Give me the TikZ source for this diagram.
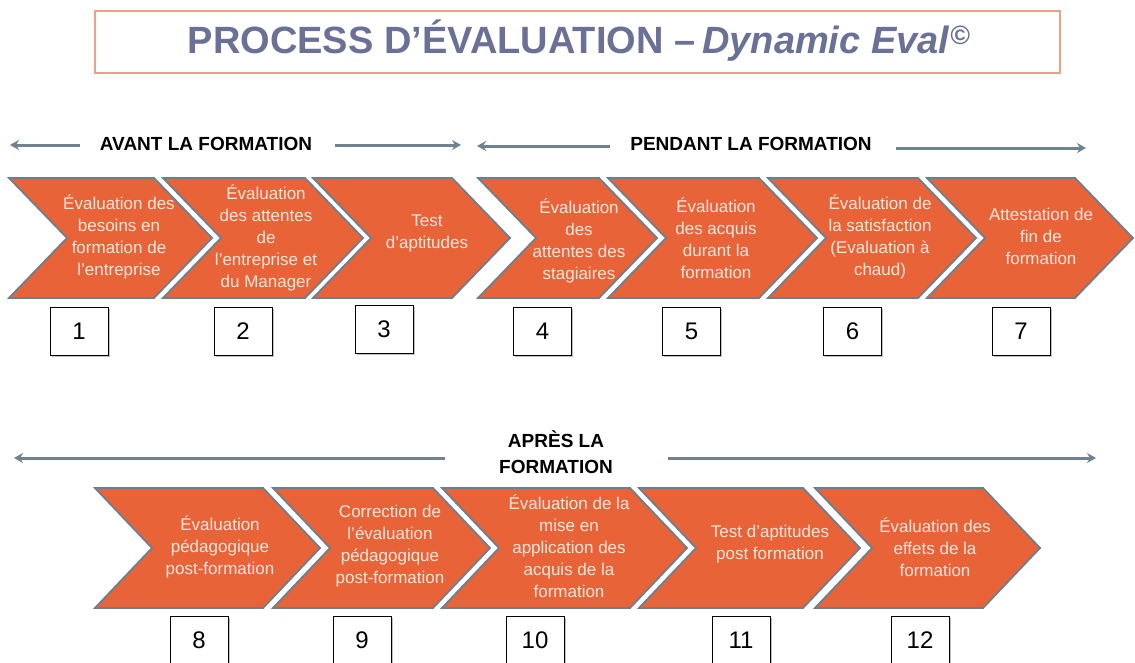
\documentclass[tikz,border=0pt]{standalone}
\usepackage{fontspec}
\setmainfont{Liberation Sans}
\usetikzlibrary{arrows.meta,shadows}
\definecolor{chevor}{HTML}{E96338}
\definecolor{chevline}{HTML}{6C7F8E}
\definecolor{arrowgrey}{HTML}{6F8290}
\definecolor{titlecol}{HTML}{6B7196}
\definecolor{framecol}{HTML}{E6A386}
\definecolor{chevtext}{HTML}{FCE7DE}
\tikzset{
  chev/.style={fill=chevor, draw=chevline, line width=1.8pt, line join=miter},
  chevlabel/.style={align=center, text=chevtext, font=\fontsize{17}{22}\selectfont, inner sep=0pt},
  numbox/.style={draw=black, line width=0.8pt, fill=white, minimum width=58pt, minimum height=48pt,
    font=\fontsize{24}{24}\selectfont, inner sep=0pt,
    drop shadow={shadow xshift=1.5pt, shadow yshift=-1.5pt, fill=black, opacity=0.25}},
  phase/.style={font=\bfseries\fontsize{19}{26}\selectfont, align=center, inner sep=0pt},
  sarrow/.style={draw=arrowgrey, line width=3pt, -{Stealth[length=9pt,width=10pt]}}
}
\newcommand\chevshape[4]{% x_topleft, x_topright, y_top, depth
  \path[chev] (#1,#3) -- (#2,#3) -- ++(#4,60) -- ++(-#4,60) -- (#1,#3+120) -- ++(#4,-60) -- cycle;}
\begin{document}
\begin{tikzpicture}[x=1pt,y=-1pt]
\useasboundingbox (0,0) rectangle (1135,662);
\fill[white] (0,0) rectangle (1135,662);

% title
\node[draw=framecol, line width=1.2pt, minimum width=965pt, minimum height=62pt, inner sep=0pt] (titlebox) at (577.5,42) {};
\node[text=titlecol, font=\bfseries\fontsize{38}{40}\selectfont, inner sep=0pt] (title) at (579,41)
  {PROCESS D’ÉVALUATION –\hspace{7pt}\textit{Dynamic Eval}\textsuperscript{\textit{©}}};

% phase labels
\node[phase] (avant) at (206,144) {AVANT LA FORMATION};
\node[phase] (pendant) at (751,144) {PENDANT LA FORMATION};
\node[phase] (apres) at (556,452) {APRÈS LA\\FORMATION};

\coordinate (a1s) at (80,145);   \coordinate (a1e) at (10,145);
\coordinate (a2s) at (335,145);  \coordinate (a2e) at (461,145);
\coordinate (p1s) at (610,146);  \coordinate (p1e) at (477,146);
\coordinate (p2s) at (896,148);  \coordinate (p2e) at (1086,148);
\coordinate (r1s) at (445,458);  \coordinate (r1e) at (14,458);
\coordinate (r2s) at (668,458);  \coordinate (r2e) at (1096,458);
\draw[sarrow] (a1s) -- (a1e);
\draw[sarrow] (a2s) -- (a2e);
\draw[sarrow] (p1s) -- (p1e);
\draw[sarrow] (p2s) -- (p2e);
\draw[sarrow] (r1s) -- (r1e);
\draw[sarrow] (r2s) -- (r2e);

% top row chevrons
\chevshape{9}{154}{178}{58}
\chevshape{163}{305}{178}{58}
\chevshape{313}{452}{178}{58}
\chevshape{478}{599}{178}{58}
\chevshape{608}{759}{178}{58}
\chevshape{768}{918}{178}{58}
\chevshape{927}{1075}{178}{58}

\node[chevlabel] (t1) at (119,237) {Évaluation des\\besoins en\\formation de\\l’entreprise};
\node[chevlabel] (t2) at (266,238) {Évaluation\\des attentes\\de\\l’entreprise et\\du Manager};
\node[chevlabel] (t3) at (427,233) {Test\\d’aptitudes};
\node[chevlabel] (t4) at (579,241) {Évaluation\\des\\attentes des\\stagiaires};
\node[chevlabel] (t5) at (716,238) {Évaluation\\des acquis\\durant la\\formation};
\node[chevlabel] (t6) at (880,237) {Évaluation de\\la satisfaction\\(Evaluation à\\chaud)};
\node[chevlabel] (t7) at (1041,236) {Attestation de\\fin de\\formation};

% bottom row chevrons
\chevshape{95}{263}{488}{57}
\chevshape{273}{433}{488}{57}
\chevshape{442}{630}{488}{57}
\chevshape{639}{803}{488}{57}
\chevshape{815}{983}{488}{57}

\node[chevlabel] (t8) at (220,547) {Évaluation\\pédagogique\\post-formation};
\node[chevlabel] (t9) at (390,546) {Correction de\\l’évaluation\\pédagogique\\post-formation};
\node[chevlabel] (t10) at (569,546) {Évaluation de la\\mise en\\application des\\acquis de la\\formation};
\node[chevlabel] (t11) at (770,544) {Test d’aptitudes\\post formation};
\node[chevlabel] (t12) at (935,547) {Évaluation des\\effets de la\\formation};

% number boxes
\node[numbox] (n1) at (79,331) {1};
\node[numbox] (n2) at (243,331) {2};
\node[numbox] (n3) at (384,329) {3};
\node[numbox] (n4) at (542.5,331) {4};
\node[numbox] (n5) at (691.5,331) {5};
\node[numbox] (n6) at (852.5,331) {6};
\node[numbox] (n7) at (1021,331) {7};
\node[numbox] (n8) at (199,640) {8};
\node[numbox] (n9) at (362,640) {9};
\node[numbox] (n10) at (535,640) {10};
\node[numbox] (n11) at (741,640) {11};
\node[numbox] (n12) at (920,640) {12};
\end{tikzpicture}
\end{document}
